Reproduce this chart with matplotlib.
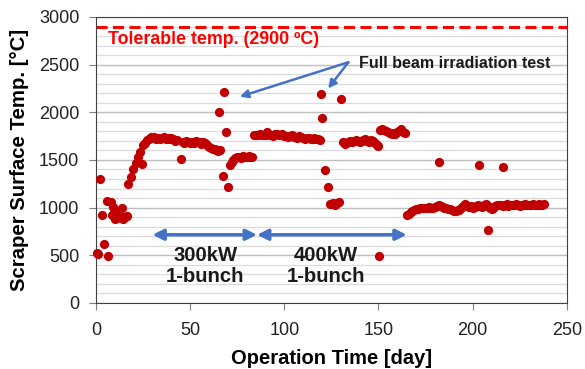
'''
Scraper surface temperature vs operation time
'''

import matplotlib.pyplot as plt
from matplotlib.ticker import MultipleLocator

plt.rcParams['font.family'] = ['Liberation Sans', 'DejaVu Sans']

# day, temperature (C)
days = [0.5, 1.2, 2.3, 3.3, 4.2, 5.7, 6.5, 7.8, 8.7, 9.2, 10, 11, 12, 13.6, 14.5, 15.5, 16.6,
        17.2, 18.4, 19.8, 21.2, 22.5, 23.4, 24.6, 24.8, 25.8, 26.9,
        28, 29, 30, 31, 32, 33, 34, 35, 36, 37, 38, 39, 40, 41, 42, 43, 45,
        46, 47, 48, 49, 50, 51, 52, 53, 54, 55, 56, 57, 58, 59, 60, 61, 62, 63, 64, 65, 66,
        65.5, 68, 69, 67.2, 70.2,
        71.1, 72, 72.9, 74, 75, 76, 77, 78, 79, 80, 81, 82, 83,
        84, 85, 86, 87, 88, 89, 90, 91, 92, 93, 94, 95, 96, 97, 98, 99, 100, 101, 102,
        103, 104, 105, 106, 107, 108, 109, 110, 111, 112, 113, 114, 115, 116, 117, 118, 119,
        119.3, 119.8, 121.5, 123.3, 124.2, 125, 126, 127, 128, 129, 130,
        131, 132, 133, 134, 135, 136, 137, 138, 139, 140, 141, 142, 143, 144, 145, 146,
        147, 148, 149, 150, 150.2,
        151, 152, 153, 154, 155, 156, 157, 158, 159, 160, 161, 162, 163, 164,
        165, 166, 167, 168, 169, 170, 171, 172, 173, 174, 175, 176, 177, 178, 179, 180,
        181, 182, 182, 183, 184, 185, 186, 187, 188, 189, 190, 191, 192, 193, 194, 195,
        196, 197, 198, 199, 200, 201, 202, 203, 203.3, 204, 205, 206, 207, 208, 208.2,
        209, 210, 211, 212, 213, 214, 215, 216, 216.2, 217, 218, 219, 220, 221, 222, 223,
        224, 225, 226, 227, 228, 229, 230, 231, 232, 233, 234, 235, 236, 237, 238]
temps = [525, 514, 1297, 920, 615, 1073, 493, 1063, 923, 1010, 880, 888, 950, 993, 878, 900, 912,
         1248, 1325, 1405, 1465, 1535, 1587, 1455, 1657, 1680, 1710,
         1720, 1738, 1730, 1740, 1725, 1735, 1720, 1730, 1740, 1725, 1730, 1720, 1735, 1715,
         1700, 1710, 1507,
         1690, 1680, 1700, 1690, 1675, 1690, 1680, 1700, 1685, 1690, 1670, 1690, 1680, 1660,
         1640, 1630, 1610, 1620, 1600, 1590, 1600,
         2007, 2210, 1797, 1332, 1220,
         1448, 1480, 1500, 1520, 1530, 1535, 1525, 1540, 1530, 1535, 1540, 1530, 1528,
         1760, 1765, 1760, 1770, 1760, 1765, 1760, 1790, 1765, 1760, 1755, 1770, 1775, 1760,
         1765, 1770, 1755, 1750, 1745,
         1755, 1760, 1745, 1740, 1735, 1750, 1740, 1730, 1725, 1735, 1730, 1725, 1720, 1730,
         1720, 1715, 1710,
         2190, 1937, 1395, 1220, 1038, 1040, 1050, 1030, 1045, 1060, 2137,
         1690, 1670, 1680, 1690, 1700, 1690, 1700, 1710, 1700, 1690, 1700, 1710, 1720, 1700,
         1690, 1710, 1700, 1680, 1660, 1650, 496,
         1810, 1820, 1810, 1800, 1790, 1780, 1770, 1780, 1770, 1790, 1800, 1820, 1790, 1780,
         923, 935, 950, 965, 975, 985, 990, 993, 995, 1000, 995, 1000, 1005, 1000, 1000, 1010,
         1020, 1030, 1476, 1015, 1005, 1000, 1000, 990, 985, 975, 965, 960, 970, 980, 1000, 1020,
         1040, 1020, 1010, 1015, 1000, 1010, 1020, 1030, 1451, 1020, 1010, 1030, 1040, 1020, 766,
         1000, 985, 1000, 1020, 1030, 1025, 1030, 1020, 1430, 1030, 1035, 1020, 1030, 1025,
         1030, 1035,
         1030, 1020, 1025, 1030, 1035, 1030, 1025, 1030, 1035, 1030, 1030, 1035, 1030, 1030, 1035]

tolerable = 2900
power_marks = [30, 85.5, 165]   # arrow ends for 300kW and 400kW periods
power_labels = ["300kW\n1-bunch", "400kW\n1-bunch"]

fig = plt.figure(figsize=(5.85, 3.69), dpi=100)
ax = fig.add_axes([0.164, 0.179, 0.805, 0.775])

ax.scatter(days, temps, s=44, color='#C00000', zorder=3, clip_on=False, linewidths=0)
ax.axhline(tolerable, color='#FF0000', lw=2.2, ls=(0, (3.6, 1.8)), zorder=2)

ax.set_xlim(0, 250)
ax.set_ylim(0, 3000)
ax.xaxis.set_major_locator(MultipleLocator(50))
ax.yaxis.set_major_locator(MultipleLocator(500))
ax.yaxis.set_minor_locator(MultipleLocator(100))
ax.grid(True, which='major', axis='y', color='#BFBFBF', lw=1.0)
ax.grid(True, which='minor', axis='y', color='#DCDCDC', lw=0.9)
ax.set_axisbelow(True)
ax.tick_params(axis='both', which='major', labelsize=13, color='#808080', length=5,
               labelcolor='#222222')
ax.tick_params(axis='x', which='major', pad=9)
ax.tick_params(axis='y', which='major', pad=7)
ax.tick_params(axis='y', which='minor', length=0)
for s in ax.spines.values():
    s.set_color('#404040')

ax.set_xlabel("Operation Time [day]", fontsize=14.5, fontweight='bold', labelpad=7)
ax.set_ylabel("Scraper Surface Temp. [°C]", fontsize=14.7, fontweight='bold', labelpad=7)

ax.text(6.4, 2760, "Tolerable temp. (2900 ºC)", color='#FF0000', fontsize=12.8,
        fontweight='bold', va='center', ha='left')

# beam power periods
arrow_y = 715
for i in range(2):
    ax.annotate("", xy=(power_marks[i], arrow_y), xytext=(power_marks[i + 1], arrow_y),
                arrowprops=dict(arrowstyle='<|-|>', color='#4472C4', lw=2.5,
                                mutation_scale=16, shrinkA=0, shrinkB=0))
    xc = [58, 122][i]
    ax.text(xc, 385, power_labels[i], ha='center', va='center', fontsize=14.6,
            fontweight='bold', linespacing=1.15, color='#1a1a1a')

# full beam irradiation test
ax.text(139.6, 2517, "Full beam irradiation test", fontsize=11.5, fontweight='bold',
        va='center', ha='left', color='#1a1a1a')
for tgt in [(76.4, 2164), (123.3, 2250)]:
    ax.annotate("", xy=tgt, xytext=(134, 2525),
                arrowprops=dict(arrowstyle='-|>', color='#4472C4', lw=1.8,
                                mutation_scale=12, shrinkA=0, shrinkB=0))

plt.savefig("out.png", dpi=100)
